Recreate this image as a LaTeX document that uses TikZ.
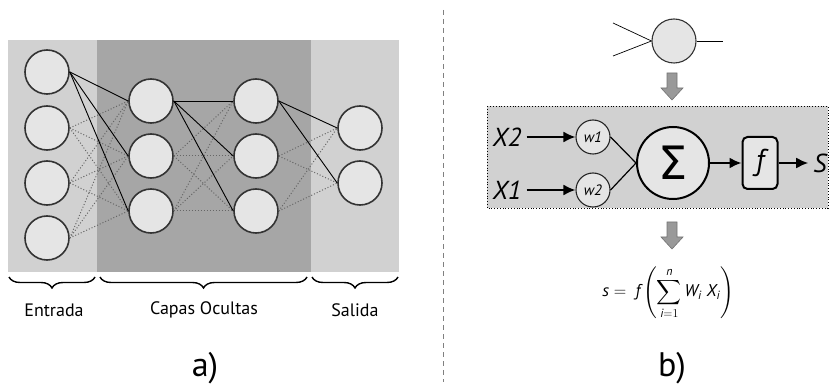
\documentclass[tikz,border=0pt]{standalone}
\usepackage{amsmath}
\usepackage{fontspec}
\setmainfont{PT Sans}
\newfontfamily\greekfont{DejaVu Sans}
\usetikzlibrary{arrows.meta,decorations.pathreplacing}
\tikzset{
  neuron/.style={circle, draw=black!80, line width=1.6pt, fill=black!10, minimum size=44pt, inner sep=0pt},
  weight/.style={circle, draw=black!85, line width=1.1pt, fill=black!10, minimum size=34pt, inner sep=0pt, font=\fontsize{15}{15}\selectfont\itshape},
  strong/.style={black, line width=0.9pt},
  weak/.style={black!60, dotted, line width=1pt},
  layerbrace/.style={decorate, decoration={brace, mirror, amplitude=11pt}, line width=1.4pt},
  flow/.style={-{Latex[length=12pt,width=11pt]}, line width=2pt},
  label/.style={font=\fontsize{18}{20}\selectfont},
  signal/.style={inner sep=5pt, font=\fontsize{26}{26}\selectfont\itshape},
}
\def\grayarrow(#1,#2){\draw[fill=black!40, draw=black!55, line width=0.6pt] ({#1-5},#2) -- ({#1+5},#2) -- ({#1+5},{#2+15}) -- ({#1+11},{#2+15}) -- (#1,{#2+27}) -- ({#1-11},{#2+15}) -- ({#1-5},{#2+15}) -- cycle;}

\begin{document}
\begin{tikzpicture}[x=1pt,y=-1pt]
			\useasboundingbox (0,0) rectangle (829,387);
			%%%%% a) RED %%%%%
			
			\fill[black!18] (8,40) rectangle (399,272);
			\fill[black!35] (97,40) rectangle (311,272);
			
			\foreach \y [count=\i] in {72,128,183,238} \node[neuron] (in\i) at (47,\y) {};
			\foreach \y [count=\i] in {101,156,211} \node[neuron] (ha\i) at (151,\y) {};
			\foreach \y [count=\i] in {101,156,211} \node[neuron] (hb\i) at (256,\y) {};
			\foreach \y [count=\i] in {128,183} \node[neuron] (out\i) at (360,\y) {};
			
			\foreach \i in {2,3,4} \foreach \j in {1,2,3} \draw[weak] (in\i.east) -- (ha\j.west);
			\foreach \i in {2,3} \foreach \j in {1,2,3} \draw[weak] (ha\i.east) -- (hb\j.west);
			\foreach \i in {2,3} \foreach \j in {1,2} \draw[weak] (hb\i.east) -- (out\j.west);
			\foreach \j in {1,2,3} \draw[strong] (in1.east) -- (ha\j.west);
			\foreach \j in {1,2,3} \draw[strong] (ha1.east) -- (hb\j.west);
			\foreach \j in {1,2} \draw[strong] (hb1.east) -- (out\j.west);
			
			\draw[layerbrace] (9,277) -- (95,277);
			\draw[layerbrace] (100,277) -- (307,277);
			\draw[layerbrace] (312,277) -- (398,277);
			\node[label] (entrada) at (54,310) {Entrada};
			\node[label] (ocultas) at (204,310) {Capas Ocultas};
			\node[label] (salida) at (355,310) {Salida};
			
			\node[font=\fontsize{34}{34}\selectfont] (parta) at (205,368) {a)};
			
			\draw[black!50, dash pattern=on 5pt off 4pt, line width=1pt] (443,10) -- (443,382);
			
			%%%%% b) NEURONA %%%%%
			
			\node[neuron, line width=1.1pt] (cell) at (674,41) {};
			\coordinate (ina) at (613,23);
			\coordinate (inb) at (613,56);
			\coordinate (outc) at (723,41);
			\draw[line width=0.7pt] (ina) -- (cell.west);
			\draw[line width=0.7pt] (inb) -- (cell.west);
			\draw[line width=0.7pt] (cell.east) -- (outc);
			
			\grayarrow(672,73)
			
			\draw[dotted, fill=black!18, line width=0.8pt] (487,106) rectangle (828,208);
			
			\node[signal] (x2) at (507,137) {X2};
			\node[signal] (x1) at (507,190) {X1};
			\node[weight] (w1) at (593,137) {w1};
			\node[weight] (w2) at (593,190) {w2};
			\node[circle, draw=black, line width=2pt, fill=black!10, minimum size=72pt, inner sep=0pt] (sigma) at (673,163) {\greekfont\fontsize{46}{46}\selectfont Σ};
			\node[rounded corners=5pt, draw=black, line width=2pt, fill=black!10, minimum width=35pt, minimum height=52pt, inner sep=0pt, font=\fontsize{30}{30}\selectfont\itshape] (fbox) at (760,163) {f};
			\node[signal] (s) at (820,163) {S};
			
			\draw[flow] (x2) -- (w1);
			\draw[flow] (x1) -- (w2);
			\draw[line width=1.2pt] (w1.east) -- (sigma.west);
			\draw[line width=1.2pt] (w2.east) -- (sigma.west);
			\draw[flow] (sigma) -- (fbox);
			\draw[flow] (fbox) -- (s);
			
			\grayarrow(672,222)
			
			\node[font=\fontsize{17}{17}\selectfont] (formula) at (668,293) {$\textit{s} = \ \textit{f}\left(\displaystyle\sum_{\textit{i}=1}^{\textit{n}} \textit{W}_{\textit{i}}\; \textit{X}_{\textit{i}}\right)$};
			
			\node[font=\fontsize{34}{34}\selectfont] (partb) at (672,368) {b)};
			
			%%%%% END %%%%%
\end{tikzpicture}
\end{document}
